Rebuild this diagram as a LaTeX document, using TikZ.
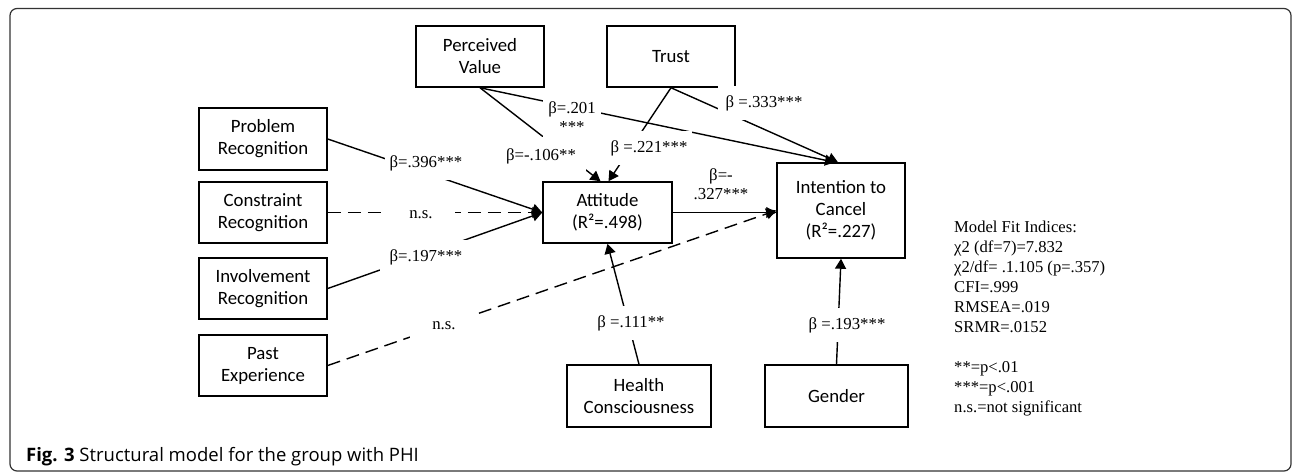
\documentclass[tikz,border=0pt]{standalone}
\usepackage{fontspec}
\setmainfont{Liberation Serif}
\newfontfamily\boxfont{Carlito}
\newfontfamily\capfont{Open Sans}
\usetikzlibrary{arrows.meta}
\tikzset{
  box/.style={draw, line width=1.5pt, minimum width=128pt, minimum height=61pt, align=center, inner sep=0pt,
    font=\boxfont\fontsize{18.8}{22}\selectfont},
  conn/.style={line width=1.4pt, -{Triangle[length=10pt,width=11pt]}},
  nsconn/.style={conn, dash pattern=on 13pt off 7pt},
  lbl/.style={fill=white, inner xsep=5pt, inner ysep=9pt, align=center, font=\fontsize{16.8}{19}\selectfont},
  fit/.style={anchor=north west, align=left, inner sep=0pt, font=\fontsize{16.6}{20}\selectfont}
}
\begin{document}
\begin{tikzpicture}[x=1pt,y=-1pt]
\useasboundingbox (0,0) rectangle (1293,472);
\draw[line width=1.2pt, draw=black!80, rounded corners=7pt] (10,8.5) rectangle (1291,471);

% boxes
\node[box] (PV) at (480,56.5) {Perceived\\Value};
\node[box] (TR) at (671,56.5) {Trust};
\node[box, minimum height=62pt] (PR) at (263,139) {Problem\\Recognition};
\node[box] (CR) at (263,212.5) {Constraint\\Recognition};
\node[box] (IR) at (263,288.5) {Involvement\\Recognition};
\node[box] (PE) at (263,365.5) {Past\\Experience};
\node[box, minimum width=129pt] (AT) at (607.5,212.5) {Attitude\\(R²=.498)};
\node[box, minimum height=95pt] (IC) at (841,210.5) {Intention to\\Cancel\\(R²=.227)};
\node[box, minimum width=144pt, minimum height=62pt] (HC) at (639,396) {Health\\Consciousness};
\node[box, minimum width=143pt, minimum height=62pt] (GE) at (836.5,396) {Gender};

% connectors
\draw[conn] (PV.south) -- ([xshift=-6pt]IC.north);
\draw[conn] (TR.south) -- ([xshift=-3pt]IC.north);
\draw[conn] (PV.south) -- ([xshift=-7pt]AT.north);
\draw[conn] (TR.south) -- ([xshift=1pt]AT.north);
\draw[conn] (PR.east) -- (AT.west);
\draw[nsconn] (CR.east) -- (AT.west);
\draw[conn] (IR.east) -- (AT.west);
\draw[nsconn] (PE.east) -- (IC.west);
\draw[line width=0.6pt, -{Triangle[length=10pt,width=11pt]}] (AT.east) -- (AT.east -| IC.west);
\draw[conn] (HC.north) -- (AT.south);
\draw[conn] (GE.north) -- (IC.south);

% labels
\node[lbl] (L1) at (426,163) {β=.396***};
\node[lbl, inner xsep=22pt] (L2) at (421,215) {n.s.};
\node[lbl, inner xsep=10pt] (L3) at (426,257) {β=.197***};
\node[lbl, inner xsep=22pt] (L4) at (444,326) {n.s.};
\node[align=center, inner sep=0pt, font=\fontsize{16.8}{19}\selectfont] (L5) at (721,184) {β=-\\.327***};
\node[lbl, inner ysep=6pt] (L6) at (572,117) {β=.201\\***};
\node[lbl, inner xsep=10pt, inner ysep=11pt] (L7) at (541,156) {β=-.106**};
\node[lbl] (L8) at (649,148) {β =.221***};
\node[lbl, inner xsep=8pt] (L9) at (764,103) {β =.333***};
\node[lbl] (L10) at (631,323) {β =.111**};
\node[lbl] (L11) at (847,325) {β =.193***};

% fit indices
\node[fit] (FIT) at (954,221) {Model Fit Indices:\\
χ2 (df=7)=7.832\\
χ2/df= .1.105 (p=.357)\\
CFI=.999\\
RMSEA=.019\\
SRMR=.0152\\[20pt]
**=p<.01\\
***=p<.001\\
n.s.=not significant};

% caption
\node[anchor=base west, inner sep=0pt, font=\capfont\fontsize{18.5}{20}\selectfont] (CAP) at (26,461) {\textbf{Fig. 3} Structural model for the group with PHI};
\end{tikzpicture}
\end{document}
